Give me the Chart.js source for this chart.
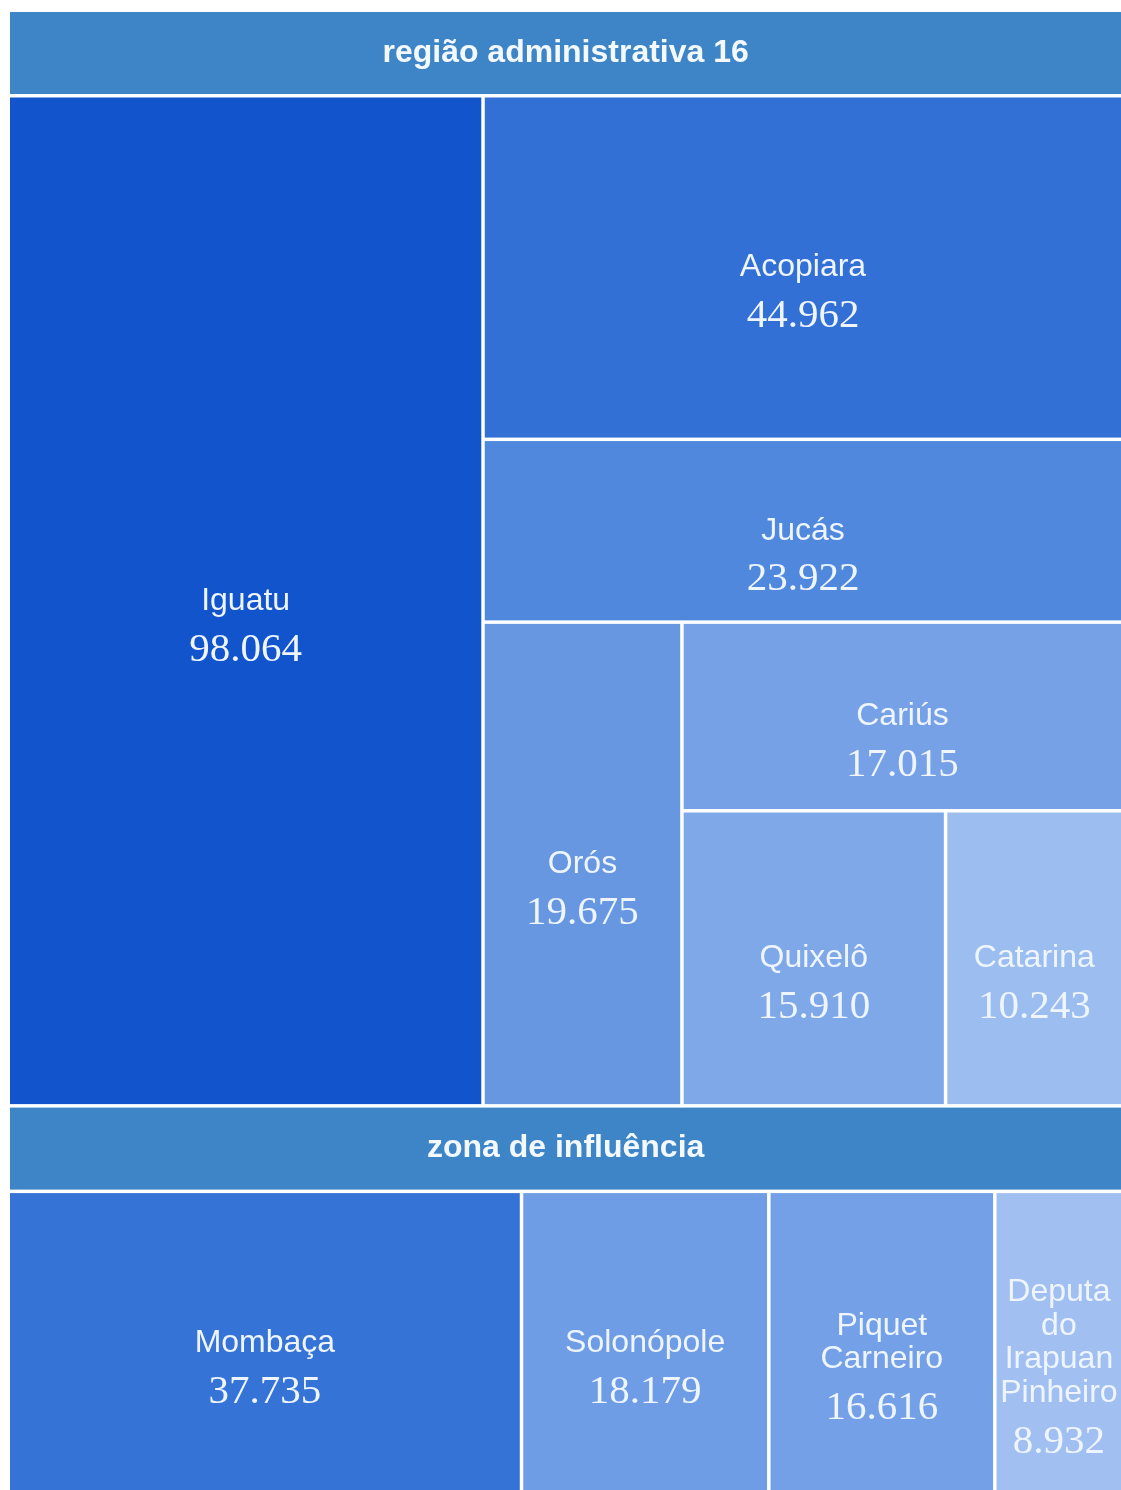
<!DOCTYPE html>
<html lang="pt-BR">
<head>
<meta charset="utf-8">
<title>região administrativa 16</title>
<script src="https://cdn.jsdelivr.net/npm/chart.js@4.4.1/dist/chart.umd.min.js"></script>
<style>
  html, body { margin: 0; padding: 0; background: #ffffff; overflow: hidden; }
  #wrap { position: absolute; left: 0; top: 0; width: 1123px; height: 1496px; }
</style>
</head>
<body>
<div id="wrap"><canvas id="treemap" width="1123" height="1496"></canvas></div>
<script>
// grupos (faixas de cabeçalho)
var grupos = ["região administrativa 16", "zona de influência"];

// região administrativa 16
var regiaoNomes = ["Iguatu", "Acopiara", "Jucás", "Orós", "Cariús", "Quixelô", "Catarina"];
var regiaoValores = [98064, 44962, 23922, 19675, 17015, 15910, 10243];
var regiaoCores = ["#1254cc", "#3270d5", "#4f88dd", "#6797e0", "#76a1e6", "#7fa8e9", "#9cbdf0"];

// zona de influência
var zonaNomes = ["Mombaça", "Solonópole", "Piquet Carneiro", "Deputado Irapuan Pinheiro"];
var zonaValores = [37735, 18179, 16616, 8932];
var zonaCores = ["#3573d6", "#6e9ce5", "#74a0e7", "#a1c0f1"];

var corCabecalho = "#3e85c7";
var alturaCabecalho = 85.5;
var meioVao = 1.75;

var soma = function (arr) {
    return arr.reduce(function (a, b) { return a + b; }, 0);
};

var formatar = function (v) {
    return String(v).replace(/\B(?=(\d{3})+(?!\d))/g, ".");
};

// cada item ocupa uma faixa cortando o lado maior do que sobra
// (o ultimo fica com o resto)
var fatiar = function (valores, r, ajuste) {
    var escala = r.w * r.h / soma(valores) * ajuste;
    var resto = { x: r.x, y: r.y, w: r.w, h: r.h };
    var out = [];
    for (var i = 0; i < valores.length; i++) {
        if (i === valores.length - 1) {
            out.push({ x: resto.x, y: resto.y, w: resto.w, h: resto.h });
            break;
        }
        var area = valores[i] * escala;
        if (resto.w >= resto.h) {
            var w = area / resto.h;
            out.push({ x: resto.x, y: resto.y, w: w, h: resto.h });
            resto.x += w;
            resto.w -= w;
        } else {
            var h = area / resto.w;
            out.push({ x: resto.x, y: resto.y, w: resto.w, h: h });
            resto.y += h;
            resto.h -= h;
        }
    }
    return out;
};

var quebrar = function (ctx, texto, largura) {
    var linhas = [];
    var atual = "";
    texto.split(" ").forEach(function (p) {
        var teste = atual ? atual + " " + p : p;
        if (ctx.measureText(teste).width <= largura) {
            atual = teste;
            return;
        }
        if (atual) {
            linhas.push(atual);
            atual = "";
        }
        // palavra maior que a celula: quebra por letra
        while (p.length > 1 && ctx.measureText(p).width > largura) {
            var n = p.length;
            while (n > 1 && ctx.measureText(p.slice(0, n)).width > largura) n--;
            linhas.push(p.slice(0, n));
            p = p.slice(n);
        }
        atual = p;
    });
    if (atual) linhas.push(atual);
    return linhas;
};

var desenharCelula = function (ctx, r, cor, nome, valor) {
    var x = r.x + meioVao, y = r.y + meioVao;
    var w = r.w - 2 * meioVao, h = r.h - 2 * meioVao;
    ctx.fillStyle = cor;
    ctx.fillRect(x, y, w, h);

    ctx.save();
    ctx.beginPath();
    ctx.rect(x, y, w, h);
    ctx.clip();
    ctx.textAlign = "center";
    ctx.textBaseline = "middle";
    ctx.fillStyle = "#eef5ff";
    ctx.font = "32px 'Liberation Sans', Arial, sans-serif";
    var linhas = quebrar(ctx, nome, w - 5);
    var lh = 33.5;
    var cx = x + w / 2, cy = y + h / 2;
    var y0 = cy - (linhas.length - 1) * lh / 2;
    linhas.forEach(function (l, i) {
        ctx.fillText(l, cx, y0 + i * lh);
    });
    ctx.font = "41px 'Liberation Serif', 'Times New Roman', serif";
    ctx.fillText(formatar(valor), cx, y0 + (linhas.length - 1) * lh + 49);
    ctx.restore();
};

var desenharGrupo = function (ctx, r, titulo, nomes, valores, cores, ajuste) {
    ctx.fillStyle = corCabecalho;
    ctx.fillRect(r.x + meioVao, r.y + meioVao, r.w - 2 * meioVao, alturaCabecalho - 2 * meioVao);
    ctx.save();
    ctx.textAlign = "center";
    ctx.textBaseline = "middle";
    ctx.fillStyle = "#f3f9ff";
    ctx.font = "bold 32px 'Liberation Sans', Arial, sans-serif";
    ctx.fillText(titulo, r.x + r.w / 2, r.y + alturaCabecalho / 2);
    ctx.restore();

    var filhos = { x: r.x, y: r.y + alturaCabecalho, w: r.w, h: r.h - alturaCabecalho };
    var celulas = fatiar(valores, filhos, ajuste);
    celulas.forEach(function (c, i) {
        desenharCelula(ctx, c, cores[i], nomes[i], valores[i]);
    });
};

var treemapPlugin = {
    id: "treemap",
    afterDatasetsDraw: function (chart) {
        var ctx = chart.ctx;
        var sx = chart.scales.x, sy = chart.scales.y;
        var x0 = sx.getPixelForValue(0), x1 = sx.getPixelForValue(1);
        var y0 = sy.getPixelForValue(0), y1 = sy.getPixelForValue(1);
        var total = { x: x0, y: y0, w: x1 - x0, h: y1 - y0 };

        var blocos = fatiar([soma(regiaoValores), soma(zonaValores)], total, 1);
        desenharGrupo(ctx, blocos[0], grupos[0], regiaoNomes, regiaoValores, regiaoCores, 0.998);
        desenharGrupo(ctx, blocos[1], grupos[1], zonaNomes, zonaValores, zonaCores, 0.994);
    }
};

var chart = new Chart(document.getElementById("treemap"), {
    type: "scatter",
    data: {
        datasets: [{ data: [], pointRadius: 0 }]
    },
    options: {
        responsive: false,
        animation: false,
        devicePixelRatio: 1,
        layout: { padding: { left: 8.25, top: 10.25, right: 0, bottom: 1.75 } },
        plugins: {
            legend: { display: false },
            tooltip: { enabled: false }
        },
        scales: {
            x: { type: "linear", min: 0, max: 1, display: false },
            y: { type: "linear", min: 0, max: 1, reverse: true, display: false }
        }
    },
    plugins: [treemapPlugin]
});
</script>
</body>
</html>
